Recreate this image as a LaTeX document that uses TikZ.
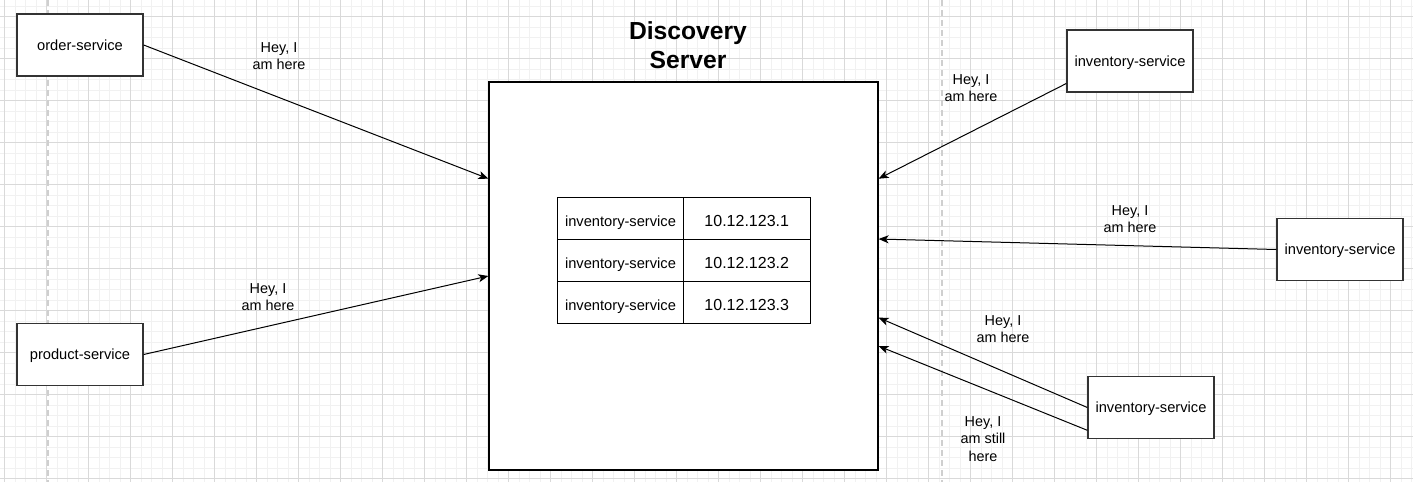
\documentclass[tikz,border=0pt]{standalone}
\usepackage{fontspec}
\setmainfont{Liberation Sans}
\usetikzlibrary{arrows.meta,calc}
\definecolor{gridminor}{HTML}{F1F1F1}
\definecolor{gridmajor}{HTML}{D9D9D9}
\definecolor{pagedash}{HTML}{CFCFCF}
\definecolor{boxline}{HTML}{333333}
\tikzset{
  svcbox/.style={draw=boxline, line width=1pt, fill=white, minimum width=94.5pt, minimum height=46.5pt, inner sep=0pt, text depth=0pt, font=\fontsize{11pt}{13pt}\selectfont},
  discbox/.style={draw=black, line width=0.9pt, fill=white, minimum width=291.75pt, minimum height=291pt, inner sep=0pt},
  cellname/.style={draw=black, line width=0.8pt, minimum width=94.5pt, minimum height=31.5pt, inner sep=0pt, text height=12pt, text depth=0pt, font=\fontsize{11pt}{13pt}\selectfont},
  cellip/.style={draw=black, line width=0.8pt, minimum width=95.25pt, minimum height=31.5pt, inner sep=0pt, text height=12.6pt, text depth=0pt, font=\fontsize{12pt}{14pt}\selectfont},
  msg/.style={draw=black, line width=0.75pt, -{Stealth[length=7.5pt,width=6pt,inset=2pt]}},
  msglabel/.style={align=center, inner sep=0pt, font=\fontsize{10.8pt}{13.2pt}\selectfont},
  title/.style={align=center, inner sep=0pt, font=\bfseries\fontsize{18.5pt}{22pt}\selectfont},
}
\begin{document}
\begin{tikzpicture}[x=0.75pt,y=-0.75pt]
\useasboundingbox (0,0) rectangle (1413,482);
\fill[white] (0,0) rectangle (1413,482);
% grid
\foreach \i in {0,...,134} {
  \draw[gridminor, line width=0.5pt] ({4.5+10.5*\i},0) -- ({4.5+10.5*\i},482);
}
\foreach \j in {-1,...,45} {
  \draw[gridminor, line width=0.5pt] (0,{16.7+10.5*\j}) -- (1413,{16.7+10.5*\j});
}
\foreach \i in {0,...,33} {
  \draw[gridmajor, line width=0.6pt] ({4.5+42*\i},0) -- ({4.5+42*\i},482);
}
\foreach \j in {0,...,11} {
  \draw[gridmajor, line width=0.6pt] (0,{16.7+42*\j}) -- (1413,{16.7+42*\j});
}
% page break dashed lines
\draw[pagedash, line width=1pt, dash pattern=on 4.5pt off 3pt] (48,0) -- (48,482);
\draw[pagedash, line width=1pt, dash pattern=on 4.5pt off 3pt] (942,0) -- (942,482);

% title and server
\node[title] (title) at (688,45) {Discovery\\Server};
\node[discbox] (disc) at (683.5,276) {};

% registry table
\node[cellname] (n1) at (620.5,218.3) {inventory-service};
\node[cellip] (ip1) at (746.75,218.3) {10.12.123.1};
\node[cellname] (n2) at (620.5,260.3) {inventory-service};
\node[cellip] (ip2) at (746.75,260.3) {10.12.123.2};
\node[cellname] (n3) at (620.5,302.3) {inventory-service};
\node[cellip] (ip3) at (746.75,302.3) {10.12.123.3};

% services
\node[svcbox] (order) at (80,45) {order-service};
\node[svcbox] (product) at (80,354.5) {product-service};
\node[svcbox] (inv1) at (1130,61) {inventory-service};
\node[svcbox] (inv2) at (1340,249.5) {inventory-service};
\node[svcbox] (inv3) at (1151,407.5) {inventory-service};

% connectors
\draw[msg] (order.east) -- ($(disc.north west)!0.25!(disc.south west)$);
\draw[msg] (product.east) -- ($(disc.north west)!0.5!(disc.south west)$);
\draw[msg] ($(inv1.north west)!0.855!(inv1.south west)$) -- ($(disc.north east)!0.25!(disc.south east)$);
\draw[msg] (inv2.west) -- ($(disc.north east)!0.405!(disc.south east)$);
\draw[msg] ($(inv3.north west)!0.5!(inv3.south west)$) -- ($(disc.north east)!0.607!(disc.south east)$);
\draw[msg] ($(inv3.north west)!0.86!(inv3.south west)$) -- ($(disc.north east)!0.68!(disc.south east)$);

% labels
\node[msglabel] (l1) at (279,56) {Hey, I\\am here};
\node[msglabel] (l2) at (268,297) {Hey, I\\am here};
\node[msglabel] (l3) at (971,88) {Hey, I\\am here};
\node[msglabel] (l4) at (1130,219) {Hey, I\\am here};
\node[msglabel] (l5) at (1003,329) {Hey, I\\am here};
\node[msglabel] (l6) at (983,439) {Hey, I\\am still\\here};
\end{tikzpicture}
\end{document}
